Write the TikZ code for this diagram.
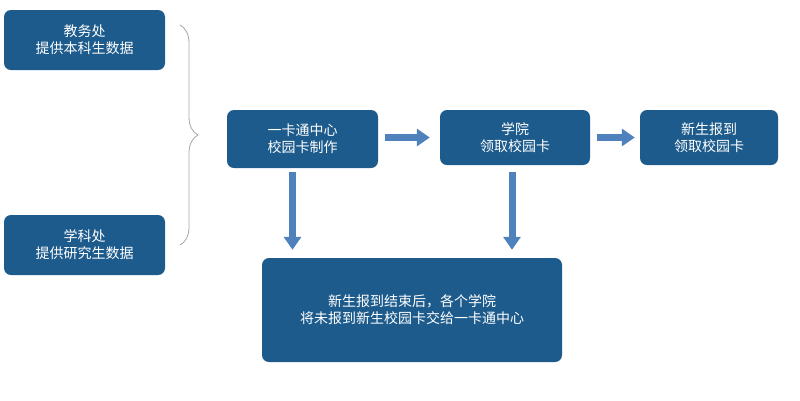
\documentclass[tikz,border=0pt]{standalone}
\usepackage{fontspec}
\setmainfont{Noto Sans CJK SC}
\usetikzlibrary{arrows.meta,decorations.pathreplacing}
\definecolor{boxblue}{HTML}{1D5B8C}
\definecolor{arrblue}{HTML}{4F81BD}
\begin{document}
\begin{tikzpicture}[x=1pt,y=-1pt,
  box/.style={fill=boxblue,rounded corners=7pt,text=white,font=\fontsize{14}{17}\selectfont,align=center,inner sep=0pt},
  blk/.style={draw=arrblue,line width=7pt,-{Triangle[width=17pt,length=13pt]}}]
\useasboundingbox (0,0) rectangle (800,400);
\node[box,minimum width=161,minimum height=60] (a) at (84.5,40) {教务处\\提供本科生数据};
\node[box,minimum width=161,minimum height=60] (b) at (84.5,245) {学科处\\提供研究生数据};
\node[box,minimum width=151,minimum height=58] (c) at (302.5,139) {一卡通中心\\校园卡制作};
\node[box,minimum width=150,minimum height=55] (d) at (515,137.5) {学院\\领取校园卡};
\node[box,minimum width=138,minimum height=55] (e) at (709,137.5) {新生报到\\领取校园卡};
\node[box,minimum width=300,minimum height=104] (f) at (412,310) {新生报到结束后，各个学院\\将未报到新生校园卡交给一卡通中心};
\coordinate (bt) at (180,25);
\coordinate (bb) at (180,245);
\draw[gray!70,line width=0.8pt,decoration={brace,amplitude=18pt,aspect=0.5},decorate] (bt) -- (bb);
\draw[blk,shorten <=7pt,shorten >=10pt] (c.east |- d.west) -- (d.west);
\draw[blk,shorten <=7pt,shorten >=5pt] (d.east) -- (e.west);
\draw[blk,shorten <=4pt,shorten >=8pt] ([xshift=-10pt]c.south) -- ([xshift=-10pt]c.south |- f.north);
\draw[blk,shorten <=7pt,shorten >=8pt] ([xshift=-3pt]d.south) -- ([xshift=-3pt]d.south |- f.north);
\end{tikzpicture}
\end{document}
